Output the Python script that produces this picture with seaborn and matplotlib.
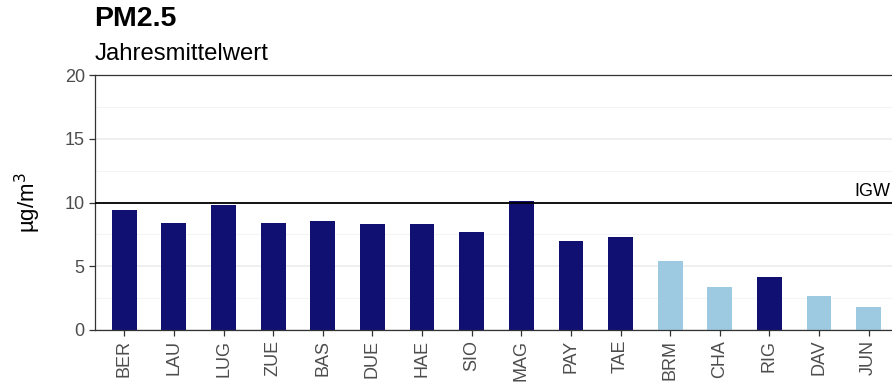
import matplotlib
matplotlib.use("Agg")
import matplotlib.pyplot as plt
from matplotlib.ticker import MultipleLocator
import seaborn as sns
import pandas as pd

stations = ["BER", "LAU", "LUG", "ZUE", "BAS", "DUE", "HAE", "SIO", "MAG",
            "PAY", "TAE", "BRM", "CHA", "RIG", "DAV", "JUN"]
pm25 = [9.4, 8.4, 9.8, 8.4, 8.55, 8.3, 8.3, 7.7, 10.1,
        7.0, 7.3, 5.4, 3.4, 4.15, 2.7, 1.8]
station_type = ["urban", "urban", "urban", "urban", "urban", "urban", "urban", "urban", "urban",
                "urban", "urban", "rural", "rural", "urban", "rural", "rural"]
igw = 10

palette = {"urban": "#101073", "rural": "#9ecae1"}

df = pd.DataFrame({"station": stations, "pm25": pm25, "type": station_type})

sns.set_theme(style="white")
plt.rcParams["font.family"] = ["Liberation Sans", "DejaVu Sans"]

fig = plt.figure(figsize=(8.92, 3.85), dpi=100)
ax = fig.add_axes([94.5 / 892, (385 - 330) / 385, (892 - 94.5) / 892, 255 / 385])

sns.barplot(data=df, x="station", y="pm25", hue="type", palette=palette,
            dodge=False, width=0.5, legend=False, ax=ax, saturation=1,
            linewidth=0, edgecolor="none")

ax.set_ylim(0, 20)
ax.set_xlim(-0.6, 15.47)
ax.yaxis.set_major_locator(MultipleLocator(5))
ax.yaxis.set_minor_locator(MultipleLocator(2.5))
ax.grid(axis="y", which="major", color="#ebebeb", linewidth=1.1, zorder=0)
ax.grid(axis="y", which="minor", color="#f4f4f4", linewidth=0.8, zorder=0)
ax.grid(axis="x", visible=False)
ax.set_axisbelow(True)

for side in ["left", "bottom", "top"]:
    ax.spines[side].set_visible(True)
    ax.spines[side].set_color("#333333")
    ax.spines[side].set_linewidth(0.9)
ax.spines["right"].set_visible(False)

ax.axhline(igw, color="black", linewidth=1.3, zorder=3)
ax.text(15.43, igw + 0.2, "IGW", ha="right", va="bottom", fontsize=13, color="black")

ax.tick_params(axis="both", which="major", length=4, width=0.9, color="#333333",
               labelsize=13, labelcolor="#4d4d4d", left=True, bottom=True, pad=3)
ax.tick_params(axis="y", which="minor", left=False)
ax.set_xticks(range(len(stations)))
ax.set_xticklabels(stations, rotation=90)
ax.set_xlabel("")
ax.set_ylabel("µg/m$^3$", fontsize=16, color="black")
ax.yaxis.set_label_coords(-0.064, 0.5)

fig.text(94.5 / 892, 1 - 26 / 385, "PM2.5", fontsize=20.5, fontweight="bold",
         color="black", ha="left", va="baseline")
fig.text(94.5 / 892, 1 - 60 / 385, "Jahresmittelwert", fontsize=17.2,
         color="black", ha="left", va="baseline")

fig.savefig("out.png", dpi=100)
